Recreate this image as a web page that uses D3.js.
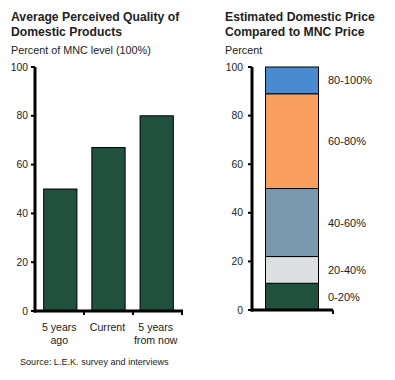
<!DOCTYPE html>
<html><head><meta charset="utf-8">
<script src="https://cdn.jsdelivr.net/npm/d3@7"></script>
<style>
body{margin:0;background:#fff;}
svg{font-family:"Liberation Sans",Arial,sans-serif;}
</style></head>
<body><svg id="c" width="395" height="380"></svg>
<script>
const qualityCategories = [["5 years","ago"],["Current"],["5 years","from now"]];
const qualityValues = [50, 67, 80];
const yTicks = [0, 20, 40, 60, 80, 100];
const priceBands = ["0-20%","20-40%","40-60%","60-80%","80-100%"];
const priceShares = [11, 11, 28, 39, 11];
const priceColors = ["#21503f","#dedfe0","#7a99af","#f9a05f","#4a8bd0"];

const svg = d3.select("#c");
const txt = "#222";

function axes(g, x0, x1, y) {
  g.append("line").attr("x1",x0).attr("x2",x0).attr("y1",y(100)).attr("y2",y(0)+1.5)
    .attr("stroke","#000").attr("stroke-width",3);
  g.append("line").attr("x1",x0-1.5).attr("x2",x1).attr("y1",y(0)).attr("y2",y(0))
    .attr("stroke","#000").attr("stroke-width",3);
  yTicks.forEach(t=>{
    g.append("line").attr("x1",x0-4).attr("x2",x0).attr("y1",y(t)).attr("y2",y(t))
      .attr("stroke","#000").attr("stroke-width",2);
  });
}

// Left chart
{
  const g = svg.append("g");
  g.append("text").attr("x",11).attr("y",20.5).attr("font-size",12.2).attr("font-weight","bold").attr("fill",txt).text("Average Perceived Quality of");
  g.append("text").attr("x",11).attr("y",35.5).attr("font-size",12.2).attr("font-weight","bold").attr("fill",txt).text("Domestic Products");
  g.append("text").attr("x",11).attr("y",54).attr("font-size",10.8).attr("fill",txt).text("Percent of MNC level (100%)");
  const y = d3.scaleLinear().domain([0,100]).range([311,67]);
  const x = d3.scaleBand().domain(qualityCategories.map((d,i)=>i)).range([35,182]).paddingInner(0.31).paddingOuter(0.18);
  g.selectAll("rect.b").data(qualityValues).join("rect")
    .attr("x",(d,i)=>x(i)).attr("width",x.bandwidth())
    .attr("y",d=>y(d)).attr("height",d=>y(0)-y(d))
    .attr("fill","#21503f").attr("stroke","#000").attr("stroke-width",1);
  axes(g, 35, 183, y);
  const step = (182-35)/3;
  [1,2,3].forEach(k=>{
    g.append("line").attr("x1",35+k*step).attr("x2",35+k*step).attr("y1",y(0)).attr("y2",y(0)+4)
      .attr("stroke","#000").attr("stroke-width",2);
  });
  g.selectAll("text.yt").data(yTicks).join("text").attr("class","yt")
    .attr("x",28).attr("y",d=>y(d)+3.5).attr("text-anchor","end").attr("font-size",10.3).attr("fill",txt).text(d=>d);
  qualityCategories.forEach((lines,i)=>{
    lines.forEach((l,j)=>{
      g.append("text").attr("x",x(i)+x.bandwidth()/2-1).attr("y",331+j*12.8).attr("text-anchor","middle")
        .attr("font-size",10.6).attr("fill",txt).text(l);
    });
  });
  g.append("text").attr("x",20).attr("y",365).attr("font-size",9.1).attr("fill",txt).text("Source: L.E.K. survey and interviews");
}

// Right chart
{
  const g = svg.append("g");
  g.append("text").attr("x",225).attr("y",20.5).attr("font-size",12.2).attr("font-weight","bold").attr("fill",txt).text("Estimated Domestic Price");
  g.append("text").attr("x",225).attr("y",35.5).attr("font-size",12.2).attr("font-weight","bold").attr("fill",txt).text("Compared to MNC Price");
  g.append("text").attr("x",225).attr("y",54).attr("font-size",10.8).attr("fill",txt).text("Percent");
  const y = d3.scaleLinear().domain([0,100]).range([310,67]);
  const stack = d3.stack().keys(priceBands)([Object.fromEntries(priceBands.map((b,i)=>[b,priceShares[i]]))]);
  g.selectAll("rect.s").data(stack).join("rect")
    .attr("x",265.5).attr("width",53)
    .attr("y",d=>y(d[0][1])).attr("height",d=>y(d[0][0])-y(d[0][1]))
    .attr("fill",(d,i)=>priceColors[i]).attr("stroke","#000").attr("stroke-width",1);
  axes(g, 252, 333, y);
  g.append("line").attr("x1",333).attr("x2",333).attr("y1",y(0)).attr("y2",y(0)+4).attr("stroke","#000").attr("stroke-width",2);
  g.selectAll("text.yt").data(yTicks).join("text").attr("class","yt")
    .attr("x",243).attr("y",d=>y(d)+3.5).attr("text-anchor","end").attr("font-size",10.3).attr("fill",txt).text(d=>d);
  g.selectAll("text.lab").data(stack).join("text").attr("class","lab")
    .attr("x",328).attr("y",d=>(y(d[0][0])+y(d[0][1]))/2+4).attr("font-size",11).attr("fill",txt).text(d=>d.key);
}
</script></body></html>
